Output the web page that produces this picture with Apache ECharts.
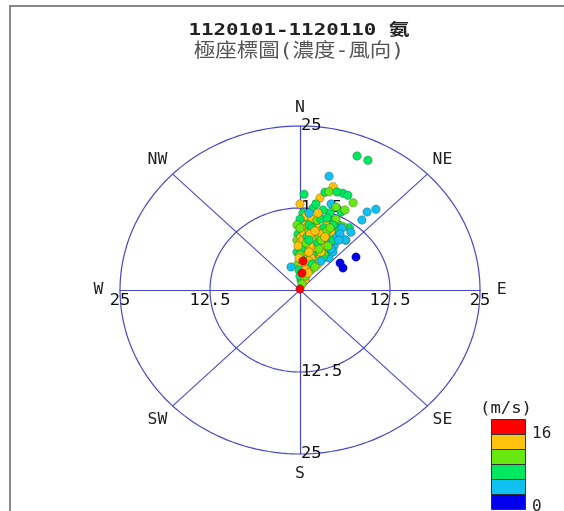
<!DOCTYPE html>
<html><head><meta charset="utf-8">
<script src="https://cdn.jsdelivr.net/npm/echarts@6/dist/echarts.min.js"></script>
<style>html,body{margin:0;padding:0;background:#fff}#c{width:564px;height:511px}</style>
</head><body><div id="c"></div>
<script>
const titleLines = ['1120101-1120110 氨', '極座標圖(濃度-風向)'];
const directionLabels = ['N','NE','E','SE','S','SW','W','NW'];
const ringValues = [12.5, 25];
const ringTickLabels = ['12.5', '25'];
const diagonalAngles = [45, 135];
const speedBreaks = [0, 2.67, 5.33, 8, 10.67, 13.33, 16];
const speedColors = ['#0000ee','#10c0f0','#00e860','#66e810','#ffc20e','#ff0000'];
const speedUnit = '(m/s)';
const speedTickLabels = ['16', '0'];

// concentration (radius), wind direction (deg, clockwise from N), wind speed (m/s)
const conc = [21.9,21.9,17.8,16.4,15.5,14.6,15.3,15.8,15.9,15.9,14.3,15.2,16.2,15.1,13.7,12.6,12.6,13.6,13.2,13.7,11.3,10.9,11.6,11.3,11.4,11.7,9.9,11.3,9.9,
9.9,9.9,10.0,10.1,10.6,10.9,11.3,
10.8,10.85,10.95,11.2,11.6,11.9,
11.75,11.8,12.0,12.5,
13.1,13.3,13.8,
9.45,9.49,9.6,9.78,10.02,10.33,10.69,11.1,
9.0,9.08,9.23,9.45,9.74,10.09,10.5,
8.54,8.56,8.65,8.82,9.07,9.38,9.76,10.19,
8.08,8.14,8.28,8.5,8.79,9.16,9.58,
7.63,7.63,7.72,7.9,8.16,8.49,8.89,9.31,
7.16,7.21,7.35,7.58,7.9,8.29,
6.72,6.73,6.85,7.07,7.37,7.76,8.21,
6.25,6.32,6.51,6.78,7.15,7.61,
5.81,5.81,5.92,6.15,6.48,6.9,7.39,
5.34,5.4,5.6,5.9,6.29,
4.88,4.93,5.11,5.42,5.83,6.33,
4.44,4.59,4.88,5.3,
3.97,4.05,4.3,4.68,
3.73,3.51,3.73,4.08,
3.05,3.13,3.41,
2.6,2.82,
2.13,2.29,
1.53,1.67,
0.95,0.15,
9.26,6.92,6.85];
const dir = [21.2,25.5,13.1,16.3,15.1,2.2,13.1,19.0,22.0,24.7,11.2,29.0,40.6,38.1,38.9,8.2,14.7,21.6,25.6,27.1,4.2,12.5,18.9,23.9,31.5,35.8,39.4,38.7,40.0,
357.6,2.4,7.2,11.9,20.7,24.8,28.7,
0,4.4,8.8,15.1,21.1,24.8,
2.0,6.1,12.0,19.6,
0,9.6,18.2,
0,5.0,10.0,14.8,19.4,23.8,27.9,31.7,
2.7,7.9,13.0,18.0,22.6,27.0,31.1,
358.1,3.8,9.2,14.6,19.7,24.5,28.9,33.1,
1.0,6.8,12.6,18.1,23.2,28.1,32.5,
356.8,3.2,9.3,15.3,21.0,26.2,31.0,35.4,
0,6.6,13.1,19.2,24.9,30.2,
357.6,4.8,11.7,18.3,24.5,30.1,35.1,
1.3,8.8,16.2,22.9,29.0,34.6,
355.9,4.1,12.2,19.8,26.8,32.9,38.3,
0,8.8,17.4,25.1,32.0,
358.4,8.0,17.4,25.8,33.2,39.6,
5.4,15.8,25.2,33.4,
356.0,11.8,22.9,32.3,
340.4,2.3,19.6,30.7,
357.4,12.7,26.6,
6.2,23.2,
0,21.3,
5.3,24.4,
17.1,0,
57.1,53.5,60.7];
const speed = [6.8,6.2,4.2,11.8,9.2,6.6,7.0,6.4,6.9,6.1,12.2,9.6,4.4,3.9,4.6,6.7,7.2,8.8,6.3,9.9,11.5,9.3,6.5,4.8,9.0,7.4,4.1,3.6,6.0,
9.4,12.5,6.9,8.6,11.3,6.4,7.1,
6.2,9.7,12.0,7.3,4.3,10.1,
6.8,4.9,11.7,6.6,
12.4,7.0,4.0,
9.1,11.9,6.7,12.3,6.3,9.8,7.2,4.5,
11.4,9.3,12.6,11.8,8.9,4.2,6.8,
6.4,12.1,11.6,9.5,12.7,7.0,11.2,4.7,
12.0,6.6,12.4,9.2,11.7,10.0,3.8,
9.6,12.2,7.1,11.5,9.0,12.8,6.5,4.4,
11.9,9.4,12.5,6.9,11.3,4.6,
12.1,8.7,12.3,6.2,11.6,9.9,4.1,
7.0,12.6,11.8,9.3,6.6,4.3,
6.8,12.9,12.0,9.7,11.4,7.3,3.7,
9.5,12.2,6.5,11.7,8.9,
12.4,9.1,12.7,11.5,6.9,4.0,
14.6,12.1,9.8,4.5,
9.0,12.3,6.7,11.6,
4.2,12.8,11.9,9.4,
7.1,12.5,9.6,
15.1,12.0,
6.4,9.2,
6.8,11.8,
9.5,15.4,
1.6,1.2,2.1];

const RAD = Math.PI / 180;
const TOP_SPEED = speedBreaks[speedBreaks.length - 2];
const allPoints = conc.map((r, i) => [r * Math.sin(dir[i] * RAD), r * Math.cos(dir[i] * RAD), speed[i], r, dir[i]]);
// interleave the drawing order (a fixed stride permutation) so overlapping dots mix like the
// original time-ordered plot; the fastest-wind (red) points are drawn last
const n = allPoints.length;
const order = allPoints.map((_, i) => i).sort((a, b) => ((a * 61) % n) - ((b * 61) % n));
const ordered = order.map(i => allPoints[i]);
const points = ordered.filter(p => p[2] < TOP_SPEED).concat(ordered.filter(p => p[2] >= TOP_SPEED));
const lineColor = '#4646d2';
const mono = '"DejaVu Sans Mono", "Noto Sans CJK TC", monospace';
const labelRadius = 28;

const chart = echarts.init(document.getElementById('c'), null, {renderer: 'canvas'});

const axisCommon = {
  type: 'value', min: -25, max: 25, interval: 12.5,
  axisLine: {show: true, onZero: true, lineStyle: {color: lineColor, width: 1.2}},
  axisTick: {show: false}, splitLine: {show: false}, axisLabel: {show: false}
};

const legendGraphics = [];
speedColors.forEach((c, i) => {
  legendGraphics.push({type: 'rect', left: 491, top: 419 + (speedColors.length - 1 - i) * 15,
    shape: {x: 0, y: 0, width: 34, height: 15}, style: {fill: c, stroke: '#333', lineWidth: 1}});
});

// tick label entries: [ring index, axis direction index 0=N,1=E,2=S,3=W]
const tickEntries = [];
ringValues.forEach((r, ri) => { for (let d = 0; d < 4; d++) tickEntries.push([ri, d]); });

const txt = (extra) => Object.assign({fill: '#111'}, extra);

option = {
  backgroundColor: '#fff',
  animation: false,
  grid: {left: 120, top: 126, width: 360, height: 328, containLabel: false},
  xAxis: axisCommon,
  yAxis: Object.assign({}, axisCommon),
  visualMap: {
    show: false, type: 'piecewise', dimension: 2, seriesIndex: 4,
    pieces: speedColors.map((c, i) => ({gte: speedBreaks[i], lt: speedBreaks[i + 1] + (i === speedColors.length - 1 ? 100 : 0), color: c}))
  },
  series: [
    {
      type: 'custom', coordinateSystem: 'cartesian2d', silent: true, z: 1,
      data: ringValues.map(r => [0, r]), encode: {x: 0, y: 1},
      renderItem: function (params, api) {
        const r = ringValues[params.dataIndex];
        const pts = [];
        for (let a = 0; a <= 360; a += 2) pts.push(api.coord([r * Math.sin(a * RAD), r * Math.cos(a * RAD)]));
        return {type: 'polyline', shape: {points: pts}, style: {stroke: lineColor, lineWidth: 1.2, fill: null}};
      }
    },
    {
      type: 'custom', coordinateSystem: 'cartesian2d', silent: true, z: 1,
      data: diagonalAngles.map(a => [0, 0]), encode: {x: 0, y: 1},
      renderItem: function (params, api) {
        const a = diagonalAngles[params.dataIndex] * RAD;
        const R = ringValues[ringValues.length - 1];
        const p1 = api.coord([R * Math.sin(a), R * Math.cos(a)]);
        const p2 = api.coord([-R * Math.sin(a), -R * Math.cos(a)]);
        return {type: 'line', shape: {x1: p1[0], y1: p1[1], x2: p2[0], y2: p2[1]}, style: {stroke: lineColor, lineWidth: 1.1}};
      }
    },
    {
      type: 'custom', coordinateSystem: 'cartesian2d', silent: true, z: 1,
      data: directionLabels.map(() => [0, 0]), encode: {x: 0, y: 1},
      renderItem: function (params, api) {
        const a = params.dataIndex * 45 * RAD;
        const p = api.coord([labelRadius * Math.sin(a), labelRadius * Math.cos(a)]);
        return {type: 'text', x: p[0], y: p[1] + (params.dataIndex === 0 ? 2 : 0), scaleX: 1.1,
          style: txt({text: directionLabels[params.dataIndex], font: '15px ' + mono, fill: '#222',
            align: 'center', verticalAlign: 'middle', textAlign: 'center', textVerticalAlign: 'middle'})};
      }
    },
    {
      type: 'custom', coordinateSystem: 'cartesian2d', silent: true, z: 1,
      data: tickEntries.map(() => [0, 0]), encode: {x: 0, y: 1},
      renderItem: function (params, api) {
        const e = tickEntries[params.dataIndex];
        const r = ringValues[e[0]];
        const a = e[1] * 90 * RAD;
        const p = api.coord([r * Math.sin(a), r * Math.cos(a)]);
        const vertical = (e[1] % 2 === 0);
        return {type: 'text', x: vertical ? p[0] + 1 : p[0], y: vertical ? p[1] : p[1] + 3, scaleX: 1.07,
          style: txt({text: ringTickLabels[e[0]], font: '16px ' + mono,
            align: vertical ? 'left' : 'center', textAlign: vertical ? 'left' : 'center',
            verticalAlign: vertical ? 'middle' : 'top', textVerticalAlign: vertical ? 'middle' : 'top'})};
      }
    },
    {
      type: 'scatter', z: 3,
      data: points,
      symbol: 'circle', symbolSize: 8.5,
      itemStyle: {opacity: 1, borderColor: 'rgba(40,40,40,0.45)', borderWidth: 0.7}
    }
  ],
  graphic: [
    {type: 'line', shape: {x1: 9, y1: 6, x2: 564, y2: 6}, style: {stroke: '#888', lineWidth: 2}},
    {type: 'line', shape: {x1: 10, y1: 5, x2: 10, y2: 511}, style: {stroke: '#888', lineWidth: 2}},
    {type: 'text', x: 299, y: 31, scaleX: 1.3,
      style: {text: titleLines[0], font: 'bold 16px ' + mono, fill: '#222', align: 'center', verticalAlign: 'middle', textAlign: 'center', textVerticalAlign: 'middle'}},
    {type: 'text', x: 299, y: 52, scaleX: 1.13,
      style: {text: titleLines[1], font: '19px ' + mono, fill: '#555', align: 'center', verticalAlign: 'middle', textAlign: 'center', textVerticalAlign: 'middle'}},
    {type: 'text', x: 506, y: 409, scaleX: 1.08,
      style: {text: speedUnit, font: '16px ' + mono, fill: '#222', align: 'center', verticalAlign: 'middle', textAlign: 'center', textVerticalAlign: 'middle'}},
    {type: 'text', x: 532, y: 434,
      style: {text: speedTickLabels[0], font: '16px ' + mono, fill: '#222', align: 'left', verticalAlign: 'middle', textAlign: 'left', textVerticalAlign: 'middle'}},
    {type: 'text', x: 532, y: 507,
      style: {text: speedTickLabels[1], font: '16px ' + mono, fill: '#222', align: 'left', verticalAlign: 'middle', textAlign: 'left', textVerticalAlign: 'middle'}}
  ].concat(legendGraphics)
};
chart.setOption(option);
</script>
</body></html>
